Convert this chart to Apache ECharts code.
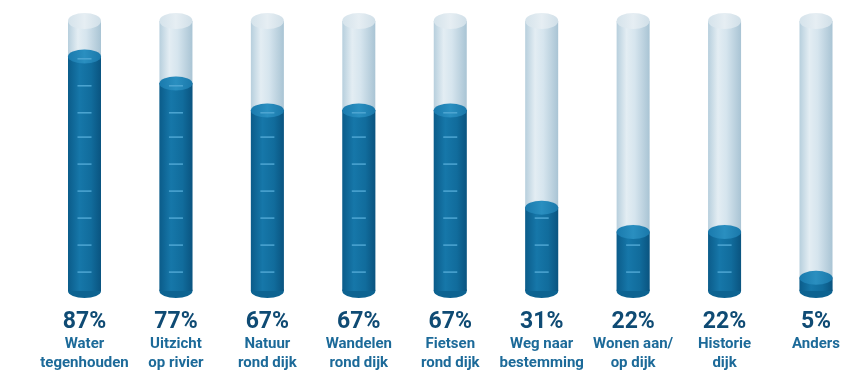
<!DOCTYPE html>
<html>
<head>
<meta charset="utf-8">
<script src="https://cdn.jsdelivr.net/npm/echarts@6/dist/echarts.min.js"></script>
<style>
html,body{margin:0;padding:0;background:#fff;}
#c{width:843px;height:371px;}
</style>
</head>
<body>
<div id="c"></div>
<script>
const categories = ['Water\ntegenhouden','Uitzicht\nop rivier','Natuur\nrond dijk','Wandelen\nrond dijk','Fietsen\nrond dijk','Weg naar\nbestemming','Wonen aan/\nop dijk','Historie\ndijk','Anders'];
const values = [87, 77, 67, 67, 67, 31, 22, 22, 5];
const fullTube = [100, 100, 100, 100, 100, 100, 100, 100, 100];
const gaugeTicks = [7, 17, 27, 37, 47, 57, 66, 76, 86];

const chart = echarts.init(document.getElementById('c'), null, {renderer: 'canvas'});

function hGrad(stops) {
  return new echarts.graphic.LinearGradient(0, 0, 1, 0, stops.map((c, i) => ({offset: c[0], color: c[1]})));
}

const tubeBody = hGrad([[0,'#b7cfdd'],[0.3,'#e3edf3'],[0.55,'#d6e5ee'],[1,'#a9c4d4']]);
const tubeCap = hGrad([[0,'#d5e3eb'],[0.5,'#e6eef3'],[1,'#d0dfe8']]);
const fillBody = hGrad([[0,'#0b5c8a'],[0.35,'#1677a9'],[0.7,'#116c9c'],[1,'#0a5480']]);
const fillTop = hGrad([[0,'#1a7aad'],[0.5,'#2a8fc0'],[1,'#1a78aa']]);

const W = 33;

chart.setOption({
  animation: false,
  grid: {left: 84.5, right: 26, top: 21, bottom: 80},
  xAxis: {
    type: 'category',
    data: categories,
    boundaryGap: false,
    axisLine: {show: false},
    axisTick: {show: false},
    axisLabel: {
      interval: 0,
      margin: 18,
      formatter: function (v, i) {
        const parts = v.split('\n');
        return '{p|' + values[i] + '%}\n' + parts.map(s => '{n|' + s + '}').join('\n');
      },
      rich: {
        p: {fontFamily: 'Roboto', fontWeight: 'bold', fontSize: 23, color: '#0f4b74', lineHeight: 26, align: 'center'},
        n: {fontFamily: 'Roboto', fontWeight: 'bold', fontSize: 15, color: '#1c6a99', lineHeight: 19, align: 'center'}
      }
    }
  },
  yAxis: {type: 'value', min: 0, max: 100, show: false, splitLine: {show: false}},
  series: [
    {
      type: 'bar', data: fullTube, barWidth: W, barGap: '-100%', z: 1,
      itemStyle: {color: tubeBody}, silent: true
    },
    {
      type: 'pictorialBar', data: fullTube, symbol: 'circle', symbolSize: [W, 16],
      symbolPosition: 'end', symbolOffset: [0, '-50%'], z: 2,
      itemStyle: {color: tubeCap}, silent: true
    },
    {
      type: 'pictorialBar', data: values, symbol: 'circle', symbolSize: [W, 14],
      symbolPosition: 'start', symbolOffset: [0, '50%'], z: 3,
      itemStyle: {color: '#0d6391'}, silent: true
    },
    {
      type: 'bar', data: values, barWidth: W, barGap: '-100%', z: 4,
      itemStyle: {color: fillBody}, silent: true
    },
    {
      type: 'pictorialBar', data: values, symbol: 'circle', symbolSize: [W, 14],
      symbolPosition: 'end', symbolOffset: [0, '-50%'], z: 5,
      itemStyle: {color: fillTop, borderColor: '#17709f', borderWidth: 1}, silent: true
    },
    {
      type: 'custom', z: 6, silent: true,
      data: values.map((v, i) => [i, v]),
      renderItem: function (params, api) {
        const idx = api.value(0), val = api.value(1);
        const children = [];
        gaugeTicks.forEach(function (t) {
          if (t < val) {
            const p = api.coord([idx, t]);
            children.push({type: 'line', shape: {x1: p[0] - 7, y1: p[1], x2: p[0] + 7, y2: p[1]},
              style: {stroke: '#4ea6d2', lineWidth: 1.5}});
          }
        });
        return {type: 'group', children: children};
      }
    }
  ]
});
</script>
</body>
</html>
